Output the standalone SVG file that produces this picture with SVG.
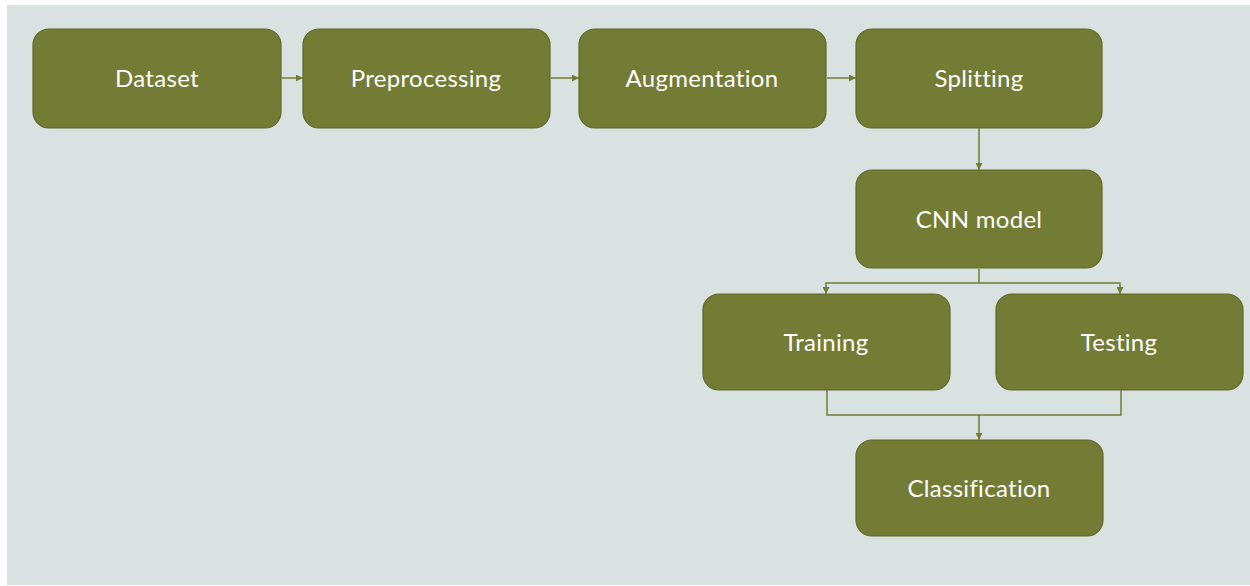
<svg xmlns="http://www.w3.org/2000/svg" width="1250" height="586" viewBox="0 0 1250 586">
<style>
.box{fill:#737c34;stroke:#5f6729;stroke-width:1.2}
.lbl{fill:#ffffff;font-family:Lato,"Open Sans","Liberation Sans",sans-serif;font-size:24px;letter-spacing:0.3px;text-anchor:middle;dominant-baseline:central}
.ln{fill:none;stroke:#737c34;stroke-width:1.5}
</style>
<defs>
<marker id="ah" viewBox="0 0 10 10" refX="10" refY="5" markerWidth="7" markerHeight="7" markerUnits="userSpaceOnUse" orient="auto">
<path d="M0,0 L10,5 L0,10 z" fill="#737c34"/>
</marker>
</defs>
<rect x="0" y="0" width="1250" height="586" fill="#ffffff"/>
<rect x="7" y="5" width="1243" height="580" fill="#d9e2e1"/>
<g id="connectors">
<line class="ln" x1="282" y1="78" x2="303" y2="78" marker-end="url(#ah)"/>
<line class="ln" x1="551" y1="78" x2="579" y2="78" marker-end="url(#ah)"/>
<line class="ln" x1="827" y1="78" x2="856" y2="78" marker-end="url(#ah)"/>
<line class="ln" x1="979" y1="128" x2="979" y2="170" marker-end="url(#ah)"/>
<polyline class="ln" points="979,269 979,283 826,283 826,294" marker-end="url(#ah)"/>
<polyline class="ln" points="979,283 1120,283 1120,294" marker-end="url(#ah)"/>
<polyline class="ln" points="827,390 827,415 1121,415 1121,390"/>
<line class="ln" x1="979" y1="415" x2="979" y2="440" marker-end="url(#ah)"/>
</g>
<g id="dataset"><rect class="box" x="33" y="29" width="248" height="99" rx="16"/><text class="lbl" x="157" y="77">Dataset</text></g>
<g id="preprocessing"><rect class="box" x="303" y="29" width="247" height="99" rx="16"/><text class="lbl" x="426" y="77">Preprocessing</text></g>
<g id="augmentation"><rect class="box" x="579" y="29" width="247" height="99" rx="16"/><text class="lbl" x="702" y="77">Augmentation</text></g>
<g id="splitting"><rect class="box" x="856" y="29" width="246" height="99" rx="16"/><text class="lbl" x="979" y="77">Splitting</text></g>
<g id="cnn"><rect class="box" x="856" y="170" width="246" height="98" rx="16"/><text class="lbl" x="979" y="218">CNN model</text></g>
<g id="training"><rect class="box" x="703" y="294" width="247" height="96" rx="16"/><text class="lbl" x="826" y="341">Training</text></g>
<g id="testing"><rect class="box" x="996" y="294" width="247" height="96" rx="16"/><text class="lbl" x="1119" y="341">Testing</text></g>
<g id="classification"><rect class="box" x="856" y="440" width="247" height="96" rx="16"/><text class="lbl" x="979" y="487">Classification</text></g>
</svg>
